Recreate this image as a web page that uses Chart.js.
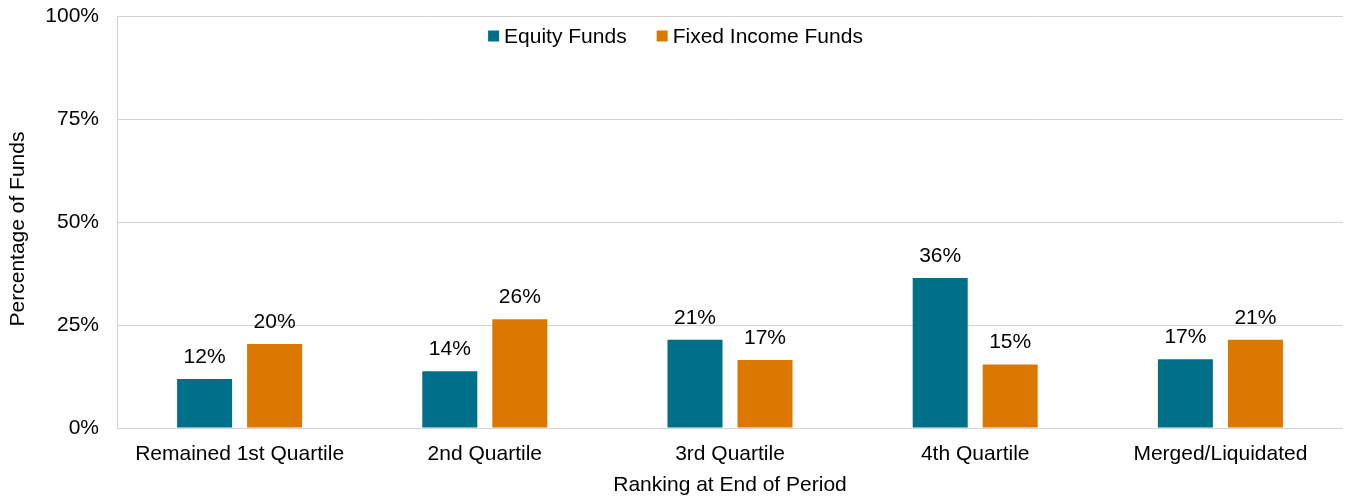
<!DOCTYPE html>
<html>
<head>
<meta charset="utf-8">
<script src="https://cdn.jsdelivr.net/npm/chart.js@4.4.0/dist/chart.umd.min.js"></script>
<style>
  body { margin: 0; background: #fff; }
  canvas { display: block; }
</style>
</head>
<body>
<canvas id="barChart" width="1351" height="498"></canvas>
<script>
// 期末時点のランキング別ファンド割合

const categories = ['Remained 1st Quartile', '2nd Quartile', '3rd Quartile', '4th Quartile', 'Merged/Liquidated']
const equityFunds = [11.9, 13.8, 21.4, 36.4, 16.7]
const fixedIncomeFunds = [20.4, 26.4, 16.5, 15.4, 21.4]
const yTicks = [0, 25, 50, 75, 100]

const FONT = 'Liberation Sans, Arial, sans-serif'
const gridColor = '#d3d3d3'

// 棒の上に値を表示
const valueLabels = {
  id: 'valueLabels',
  afterDatasetsDraw(chart) {
    const ctx = chart.ctx
    ctx.save()
    ctx.font = '21px ' + FONT
    ctx.fillStyle = '#000'
    ctx.textAlign = 'center'
    ctx.textBaseline = 'middle'
    chart.data.datasets.forEach((ds, i) => {
      chart.getDatasetMeta(i).data.forEach((bar, j) => {
        ctx.fillText(Math.round(ds.data[j]) + '%', bar.x, bar.y - 22)
      })
    })
    ctx.restore()
  }
}

// 凡例はグラフ領域の中に描く
const innerLegend = {
  id: 'innerLegend',
  afterDraw(chart) {
    const ctx = chart.ctx
    ctx.save()
    ctx.font = '21px ' + FONT
    ctx.textBaseline = 'middle'
    ctx.textAlign = 'left'
    const box = 11, gap = 5, spacing = 30
    const items = chart.data.datasets.map(ds => ({
      text: ds.label, color: ds.backgroundColor, w: box + gap + ctx.measureText(ds.label).width
    }))
    let total = items.reduce((s, it) => s + it.w, 0) + spacing * (items.length - 1)
    let x = chart.width / 2 - total / 2
    const y = 36
    items.forEach(it => {
      ctx.fillStyle = it.color
      ctx.fillRect(x, y - box / 2, box, box)
      ctx.fillStyle = '#000'
      ctx.fillText(it.text, x + box + gap, y + 1)
      x += it.w + spacing
    })
    ctx.restore()
  }
}

// 縦軸タイトルは少し下寄せ
const yTitle = {
  id: 'yTitle',
  afterDraw(chart) {
    const ctx = chart.ctx
    const area = chart.chartArea
    ctx.save()
    ctx.font = '21px ' + FONT
    ctx.fillStyle = '#000'
    ctx.textAlign = 'center'
    ctx.textBaseline = 'middle'
    ctx.translate(18, (area.top + area.bottom) / 2 + 7)
    ctx.rotate(-Math.PI / 2)
    ctx.fillText('Percentage of Funds', 0, 0)
    ctx.restore()
  }
}

new Chart(document.getElementById('barChart'), {
  type: 'bar',
  data: {
    labels: categories,
    datasets: [
      { label: 'Equity Funds', data: equityFunds, backgroundColor: '#00708a' },
      { label: 'Fixed Income Funds', data: fixedIncomeFunds, backgroundColor: '#dc7800' }
    ]
  },
  options: {
    responsive: false,
    animation: false,
    devicePixelRatio: 1,
    layout: { padding: { top: 16, right: 8, bottom: 0, left: 0 } },
    categoryPercentage: 0.571,
    barPercentage: 0.786,
    plugins: {
      legend: { display: false },
      tooltip: { enabled: false }
    },
    scales: {
      x: {
        grid: { display: false, drawTicks: false },
        border: { display: false },
        ticks: { color: '#000', font: { family: FONT, size: 21 }, padding: 14, maxRotation: 0 },
        title: {
          display: true,
          text: 'Ranking at End of Period',
          color: '#000',
          font: { family: FONT, size: 21 },
          padding: { top: 0, bottom: 0 }
        },
        afterFit(scale) { scale.height = 70 }
      },
      y: {
        min: 0,
        max: 100,
        afterBuildTicks(scale) { scale.ticks = yTicks.map(v => ({ value: v })) },
        grid: { color: gridColor, lineWidth: 1, drawTicks: false },
        border: { display: true, color: gridColor },
        ticks: {
          color: '#000',
          font: { family: FONT, size: 21 },
          padding: 18,
          callback: v => v + '%'
        },
        afterFit(scale) {
          scale.width = 117
          scale.paddingTop = 0
          scale.paddingBottom = 0
        }
      }
    }
  },
  plugins: [valueLabels, innerLegend, yTitle]
})
</script>
</body>
</html>
